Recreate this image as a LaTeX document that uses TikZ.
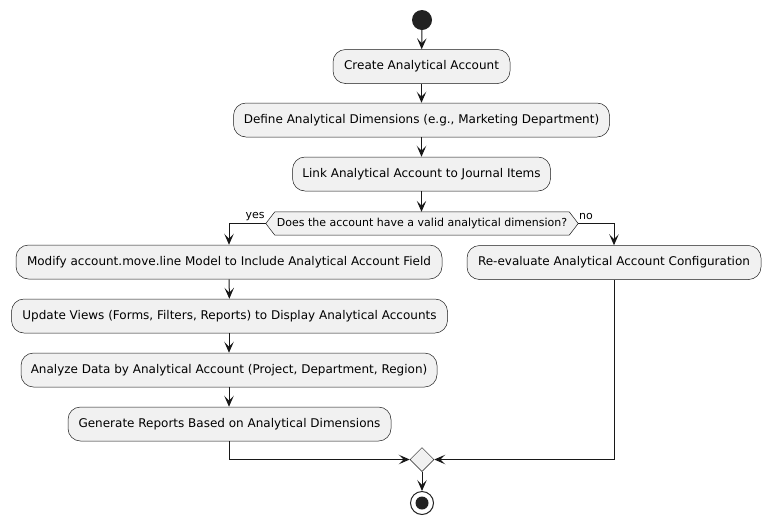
\documentclass[tikz,border=0pt]{standalone}
\usepackage{fontspec}
\setmainfont{DejaVu Sans}
\usetikzlibrary{arrows.meta,backgrounds,calc,shapes.geometric}
\definecolor{boxfill}{HTML}{F1F1F1}
\definecolor{edge}{HTML}{181818}
\definecolor{dot}{HTML}{222222}
\begin{document}
\begin{tikzpicture}[x=1pt,y=-1pt,
  actbox/.style={draw=edge, line width=0.5pt, fill=boxfill, rounded corners=12.5pt,
    minimum height=34pt, inner sep=0pt, font=\fontsize{12}{14}\selectfont},
  flow/.style={draw=edge, line width=1pt, -{Stealth[length=11pt,width=9.5pt,inset=5pt]}},
  lbl/.style={font=\fontsize{11}{13}\selectfont, inner sep=0pt}]
\useasboundingbox (0,0) rectangle (770,523);
\node[circle, fill=dot, minimum size=20pt, inner sep=0pt] (start) at (422,20) {};
\node[actbox, minimum width=177pt] (create) at (421.5,66.5) {Create Analytical Account};
\node[actbox, minimum width=376pt] (define) at (421.5,120) {Define Analytical Dimensions (e.g., Marketing Department)};
\node[actbox, minimum width=258pt] (link) at (421.5,174) {Link Analytical Account to Journal Items};
\node[minimum width=312pt, minimum height=23pt, inner sep=0pt, font=\fontsize{11}{13}\selectfont] (dec) at (422,223.5) {Does the account have a valid analytical dimension?};
\begin{scope}[on background layer]
\draw[draw=edge, line width=0.5pt, fill=boxfill] (dec.west) -- ($(dec.north west)+(9,0)$) -- ($(dec.north east)+(-9,0)$) -- (dec.east) -- ($(dec.south east)+(-9,0)$) -- ($(dec.south west)+(9,0)$) -- cycle;
\end{scope}
\node[actbox, minimum width=426pt] (modify) at (229,262) {Modify account.move.line Model to Include Analytical Account Field};
\node[actbox, minimum width=436pt] (update) at (229.5,316) {Update Views (Forms, Filters, Reports) to Display Analytical Accounts};
\node[actbox, minimum width=416pt] (analyze) at (229,370) {Analyze Data by Analytical Account (Project, Department, Region)};
\node[actbox, minimum width=323pt] (generate) at (229.5,424) {Generate Reports Based on Analytical Dimensions};
\node[actbox, minimum width=294pt] (reeval) at (614,262.5) {Re-evaluate Analytical Account Configuration};
\node[diamond, draw=edge, line width=0.5pt, fill=boxfill, minimum size=24pt, inner sep=0pt, shape aspect=1] (merge) at (422,459.5) {};
\node[circle, draw=dot, line width=1pt, fill=white, minimum size=23pt, inner sep=0pt] (stop) at (422,503) {};
\node[circle, fill=dot, minimum size=13pt, inner sep=0pt] (stopin) at (422,503) {};
\node[lbl] (yes) at (255,216.5) {yes};
\node[lbl] (no) at (586,216.5) {no};
\draw[flow] (start) -- (create);
\draw[flow] (create) -- (define);
\draw[flow] (define) -- (link);
\draw[flow] (link) -- (dec.north -| link);
\draw[flow] (dec.west) -| (modify.north);
\draw[flow] (dec.east) -| (reeval.north);
\draw[flow] (modify) -- (update);
\draw[flow] (update.south -| analyze.north) -- (analyze);
\draw[flow] (analyze) -- (generate.north -| analyze.south);
\draw[flow] (generate.south) |- (merge.west);
\draw[flow] (reeval.south) |- (merge.east);
\draw[flow] (merge) -- (stop);
\end{tikzpicture}
\end{document}
